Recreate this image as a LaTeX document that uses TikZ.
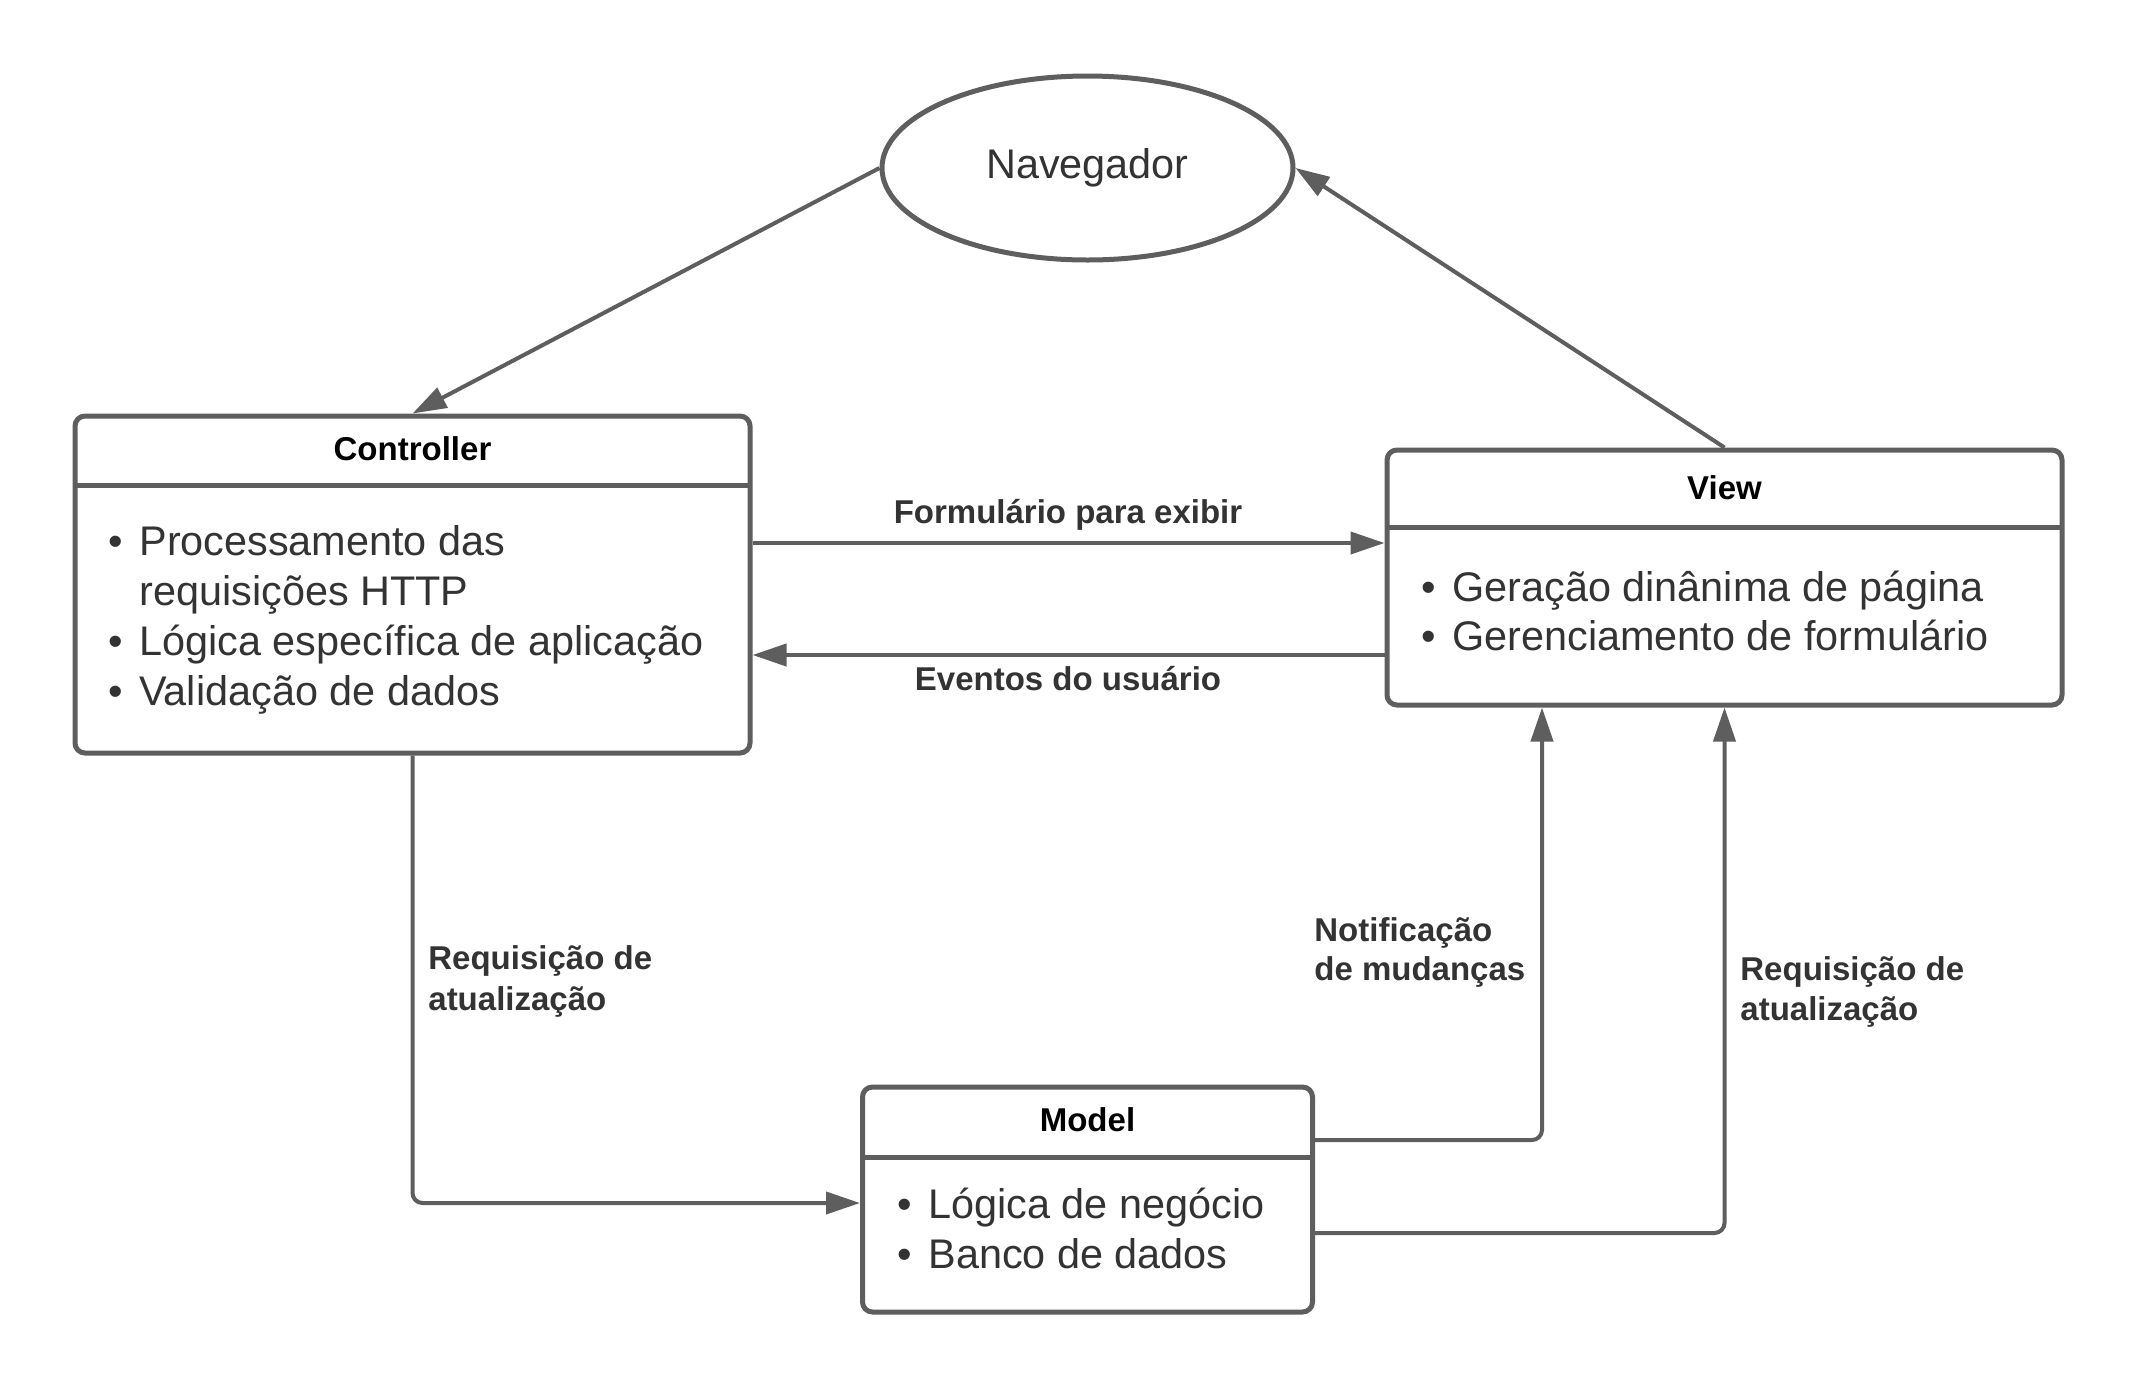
\documentclass[tikz,border=0pt]{standalone}
\usepackage{fontspec}
\setmainfont{Liberation Sans}
\usetikzlibrary{arrows.meta,shapes.geometric}
\definecolor{ln}{HTML}{5E5E5E}
\definecolor{tx}{HTML}{333333}
\begin{document}
\begin{tikzpicture}[x=0.5pt,y=-0.5pt,
  box/.style={draw=ln, line width=2.5pt, rounded corners=5pt, fill=white, inner sep=0pt},
  conn/.style={draw=ln, line width=2pt, -{Triangle[length=17pt,width=11pt]}, rounded corners=5pt},
  divider/.style={draw=ln, line width=2.5pt},
  body/.style={font=\fontsize{20.7}{24}\selectfont, text=tx, inner sep=0pt, anchor=base west},
  bul/.style={font=\fontsize{20.7}{24}\selectfont, text=tx, inner sep=0pt, anchor=base},
  hdr/.style={font=\fontsize{16.5}{20}\selectfont\bfseries, text=black, inner sep=0pt, anchor=base},
  lbl/.style={font=\fontsize{16.5}{20}\selectfont\bfseries, text=tx, inner sep=0pt},
]
\fill[white] (0,0) rectangle (2138,1388);
\useasboundingbox (0,0) rectangle (2138,1388);

% Navegador
\node[ellipse, draw=ln, line width=2.5pt, minimum width=205.5pt, minimum height=92pt, inner sep=0pt,
      font=\fontsize{20.7}{24}\selectfont, text=tx] (nav) at (1087.5,168) {Navegador};

% Controller
\node[box, minimum width=337.5pt, minimum height=168.5pt] (ctrl) at (412.5,584.5) {};
\coordinate (ctrlL) at (75,485);
\coordinate (ctrlR) at (750,485);
\draw[divider] (ctrlL) -- (ctrlR);
\node[hdr] (ctrlh) at (412.5,460) {Controller};
\node[bul] (cb1) at (116,555) {•};
\node[body] (ct1) at (139,555) {Processamento das};
\node[body] (ct2) at (139,605) {requisições HTTP};
\node[bul] (cb3) at (116,655) {•};
\node[body] (ct3) at (139,655) {Lógica específica de aplicação};
\node[bul] (cb4) at (116,705) {•};
\node[body] (ct4) at (139,705) {Validação de dados};

% View
\node[box, minimum width=337.5pt, minimum height=127.5pt] (view) at (1724.5,577.5) {};
\coordinate (viewL) at (1387,527);
\coordinate (viewR) at (2062,527);
\draw[divider] (viewL) -- (viewR);
\node[hdr] (viewh) at (1724.5,499) {View};
\node[bul] (vb1) at (1429,601) {•};
\node[body] (vt1) at (1452,601) {Geração dinânima de página};
\node[bul] (vb2) at (1429,650) {•};
\node[body] (vt2) at (1452,650) {Gerenciamento de formulário};

% Model
\node[box, minimum width=225pt, minimum height=112.5pt] (model) at (1087.5,1199.5) {};
\coordinate (modelL) at (862.5,1157);
\coordinate (modelR) at (1312.5,1157);
\draw[divider] (modelL) -- (modelR);
\node[hdr] (modelh) at (1087.5,1131) {Model};
\node[bul] (mb1) at (905,1218) {•};
\node[body] (mt1) at (928,1218) {Lógica de negócio};
\node[bul] (mb2) at (905,1268) {•};
\node[body] (mt2) at (928,1268) {Banco de dados};

% connectors
\draw[conn] (nav.west) -- (ctrl.north);
\draw[conn] (view.north) -- (nav.east);
\draw[conn] (ctrl.east |- 0,543) -- (view.west |- 0,543);
\draw[conn] (view.west |- 0,655) -- (ctrl.east |- 0,655);
\draw[conn] (ctrl.south) |- (model.west |- 0,1203);
\draw[conn] (model.east |- 0,1140) -| (view.south -| 1542,0);
\draw[conn] (model.east |- 0,1233) -| (view.south);

% labels
\node[lbl, anchor=base] (l1) at (1068,523) {Formulário para exibir};
\node[lbl, anchor=base] (l2) at (1068,690) {Eventos do usuário};
\node[lbl, anchor=base west] (l3a) at (428,969) {Requisição de};
\node[lbl, anchor=base west] (l3b) at (428,1010) {atualização};
\node[lbl, anchor=base west] (l4a) at (1314,941) {Notificação};
\node[lbl, anchor=base west] (l4b) at (1314,980) {de mudanças};
\node[lbl, anchor=base west] (l5a) at (1740,980) {Requisição de};
\node[lbl, anchor=base west] (l5b) at (1740,1020) {atualização};
\end{tikzpicture}
\end{document}
